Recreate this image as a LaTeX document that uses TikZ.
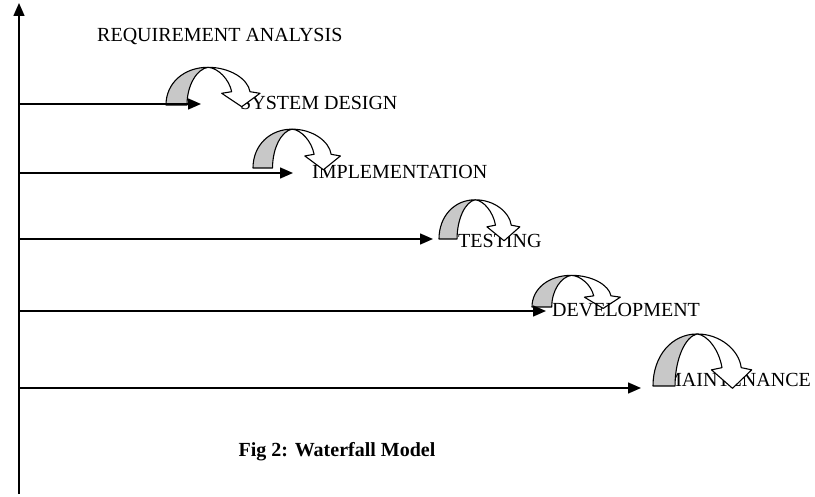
\documentclass[tikz,border=0pt]{standalone}
\usepackage{fontspec}
\setmainfont{Liberation Serif}
\usetikzlibrary{arrows.meta, positioning}
\definecolor{bandgray}{RGB}{200,200,200}

% curved "next phase" arrow: #1 base point, #2 xscale, #3 yscale
\newcommand{\bendarrow}[3]{%
  \begin{scope}[shift={(#1)}, xscale=#2, yscale=#3]
    \filldraw[bandshape] (0,0) .. controls (0,22) and (18,37.7) .. (42,37.7)
      .. controls (31,36) and (21,20) .. (21,0) -- cycle;
    \filldraw[bandshape, fill=white] (42,37.7) .. controls (64,37.7) and (82,26) .. (84,13.3)
      -- (94,11.7) -- (75.7,-1.7) -- (55.7,11.7) -- (65.7,13.3)
      .. controls (63,26) and (52,37) .. (42,37.7) -- cycle;
  \end{scope}}

\begin{document}
\begin{tikzpicture}[
      x=1pt, y=1pt,
      phase/.style={anchor=base west, inner sep=0pt, font=\fontsize{20}{23}\selectfont},
      caption/.style={anchor=base, inner sep=0pt, font=\fontsize{20}{23}\selectfont\bfseries},
      bandshape/.style={draw=black, line width=1.1pt, fill=bandgray, line join=round},
      arr/.style={-{Triangle[length=13pt,width=11pt]}, line width=1.5pt}
    ]
    \useasboundingbox (0,0) rectangle (815,496);

    % time axis
    \coordinate (ybot) at (19,2);
    \coordinate (ytop) at (19,493);
    \draw[arr] (ybot) -- (ytop);

    % phases
    \node[phase] (req) at (97,454) {REQUIREMENT ANALYSIS};

    \node[phase] (sys) at (240,386) {SYSTEM DESIGN};
    \bendarrow{166,391}{1}{1}
    \coordinate (s1) at (19,392);
    \coordinate (e1) at (201,392);
    \draw[arr] (s1) -- (e1);

    \node[phase] (impl) at (312,317) {IMPLEMENTATION};
    \bendarrow{253,328}{0.93}{1.03}
    \coordinate (s2) at (19,323);
    \coordinate (e2) at (293,323);
    \draw[arr] (s2) -- (e2);

    \node[phase] (test) at (458,248) {TESTING};
    \bendarrow{439,257}{0.86}{1.04}
    \coordinate (s3) at (19,257);
    \coordinate (e3) at (433,257);
    \draw[arr] (s3) -- (e3);

    \bendarrow{532,189}{0.94}{0.84}
    \node[phase] (dev) at (552,179) {DEVELOPMENT};
    \coordinate (s4) at (19,185);
    \coordinate (e4) at (546,185);
    \draw[arr] (s4) -- (e4);

    \node[phase] (mnt) at (664,109) {MAINTENANCE};
    \bendarrow{653,110}{1.05}{1.38}
    \coordinate (s5) at (19,108);
    \coordinate (e5) at (641,108);
    \draw[arr] (s5) -- (e5);

    \node[caption] (cap) at (337,39) {Fig 2: Waterfall Model};
  \end{tikzpicture}
\end{document}
